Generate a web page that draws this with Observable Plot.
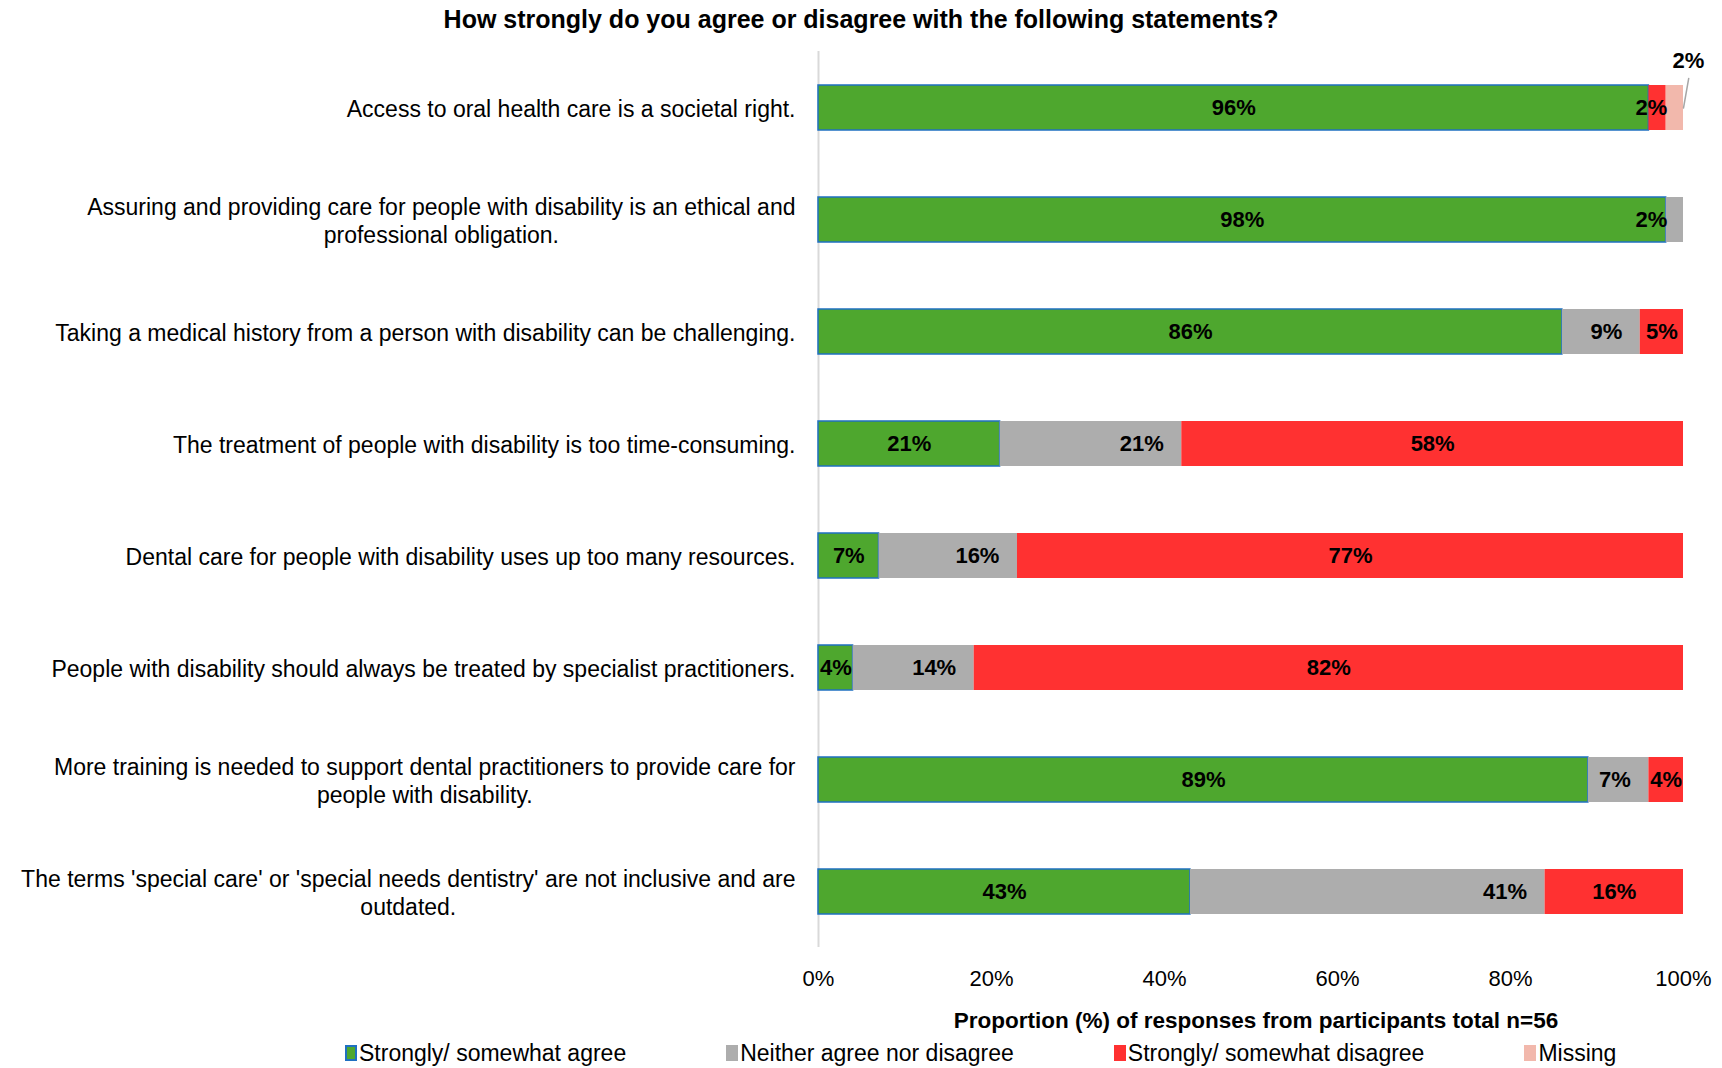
<!DOCTYPE html>
<html>
<head>
<meta charset="utf-8">
<script src="https://cdn.jsdelivr.net/npm/d3@7"></script>
<script src="https://cdn.jsdelivr.net/npm/@observablehq/plot@0.6"></script>
<style>
  body { margin: 0; background: #fff; font-family: "Liberation Sans", Arial, sans-serif; color: #000; }
  #title { height: 38px; line-height: 38px; text-align: center; font-weight: bold; font-size: 25px; }
  #legend { height: 30px; display: flex; align-items: center; padding-left: 345px; font-size: 23px; white-space: nowrap; }
  .item { display: flex; align-items: center; margin-right: 100px; flex-shrink: 0; }
  .sw { width: 12px; height: 16px; margin-right: 2px; box-sizing: border-box; flex-shrink: 0; }
</style>
</head>
<body>
<div id="title"></div>
<div id="chart"></div>
<div id="legend"></div>
<script>
const titleText = "How strongly do you agree or disagree with the following statements?";
const xAxisTitle = "Proportion (%) of responses from participants total n=56";
const statements = [
  "Access to oral health care is a societal right.",
  "Assuring and providing care for people with disability is an ethical and professional obligation.",
  "Taking a medical history from a person with disability can be challenging.",
  "The treatment of people with disability is too time-consuming.",
  "Dental care for people with disability uses up too many resources.",
  "People with disability should always be treated by specialist practitioners.",
  "More training is needed to support dental practitioners to provide care for people with disability.",
  "The terms 'special care' or 'special needs dentistry' are not inclusive and are outdated."
];
const seriesNames = ["Strongly/ somewhat agree", "Neither agree nor disagree", "Strongly/ somewhat disagree", "Missing"];
const agree    = [96, 98, 86, 21,  7,  4, 89, 43];
const neutral  = [ 0,  2,  9, 21, 16, 14,  7, 41];
const disagree = [ 2,  0,  5, 58, 77, 82,  4, 16];
const missing  = [ 2,  0,  0,  0,  0,  0,  0,  0];
const xTicks = [0, 20, 40, 60, 80, 100];

const colors = ["#4EA72E", "#ADADAD", "#FF3131", "#F2B8AC"];
const FONT = '"Liberation Sans", Arial, sans-serif';
const FS = 23;     // category labels
const FS_DATA = 22; // data labels
const FS_TICK = 22;

document.getElementById("title").textContent = titleText;

// tidy rows with stacked extents
const seriesVals = [agree, neutral, disagree, missing];
const rows = [];
statements.forEach((s, i) => {
  let acc = 0;
  seriesVals.forEach((arr, k) => {
    const v = arr[i];
    if (v > 0) rows.push({statement: s, series: seriesNames[k], k, value: v, x1: acc, x2: acc + v});
    acc += v;
  });
});

// text wrapping by measurement
const ctx = document.createElement("canvas").getContext("2d");
ctx.font = `${FS}px ${FONT}`;
function wrap(text, maxPx) {
  const words = text.split(" ");
  const lines = [];
  let line = "";
  for (const w of words) {
    const t = line ? line + " " + w : w;
    if (ctx.measureText(t).width > maxPx && line) { lines.push(line); line = w; }
    else line = t;
  }
  if (line) lines.push(line);
  return lines.join("\n");
}

const lab = {fill: "#000", fontWeight: "bold", fontSize: FS_DATA, fontFamily: FONT};
const agreeLab = rows.filter(d => d.k === 0);
const neutralBig = rows.filter(d => d.k === 1 && d.value >= 3);
const neutralSmall = rows.filter(d => d.k === 1 && d.value < 3);
const disBig = rows.filter(d => d.k === 2 && d.value >= 3);
const disSmall = rows.filter(d => d.k === 2 && d.value < 3);
const missRows = rows.filter(d => d.k === 3);

const chart = Plot.plot({
  width: 1722,
  height: 1000,
  marginLeft: 818,
  marginRight: 39,
  marginTop: 13,
  marginBottom: 91,
  style: {fontFamily: FONT, fontSize: FS + "px", color: "#000", background: "#fff"},
  x: {domain: [0, 100], ticks: xTicks, tickFormat: d => d + "%", label: null},
  y: {domain: statements, paddingInner: 0.6, paddingOuter: 0.3, label: null},
  marks: [
    Plot.ruleX([0], {stroke: "#D9D9D9", strokeWidth: 2}),
    Plot.barX(rows, {
      y: "statement", x1: "x1", x2: "x2",
      fill: d => colors[d.k],
      stroke: d => d.k === 0 ? "#1F70C1" : "none",
      strokeWidth: 1.5
    }),
    Plot.text(agreeLab, {...lab, y: "statement", x: d => (d.x1 + d.x2) / 2, text: d => d.value + "%"}),
    Plot.text(neutralBig, {...lab, y: "statement", x: "x2", text: d => d.value + "%", textAnchor: "end", dx: -18}),
    Plot.text(neutralSmall, {...lab, y: "statement", x: "x1", text: d => d.value + "%", textAnchor: "end", dx: 1}),
    Plot.text(disBig, {...lab, y: "statement", x: d => (d.x1 + d.x2) / 2, text: d => d.value + "%"}),
    Plot.text(disSmall, {...lab, y: "statement", x: "x2", text: d => d.value + "%", textAnchor: "end", dx: 1}),
    Plot.vector(missRows, {
      x: "x2", y: "statement", length: 30, rotate: 10, anchor: "start",
      stroke: "#A6A6A6", strokeWidth: 1.5,
      shape: {draw(context, l) { context.moveTo(0, 0); context.lineTo(0, -l); }}
    }),
    Plot.text(missRows, {...lab, y: "statement", x: "x2", text: d => d.value + "%", dx: 5, dy: -47}),
    Plot.axisX({ticks: xTicks, tickFormat: d => d + "%", tickSize: 0, tickPadding: 23, fontSize: FS_TICK, label: null}),
    Plot.axisY({tickSize: 0, tickPadding: 23, fontSize: FS, lineHeight: 1.22, tickFormat: d => wrap(d, 800), label: null}),
    Plot.text([xAxisTitle], {frameAnchor: "bottom", dy: 80, dx: 5, text: d => d, fontWeight: "bold", fontSize: 22.5, fill: "#000"})
  ]
});
document.getElementById("chart").appendChild(chart);

// center multi-line category labels within their block
chart.querySelectorAll('g[aria-label="y-axis tick label"] text').forEach(t => {
  const spans = Array.from(t.querySelectorAll("tspan"));
  if (spans.length < 2) return;
  const widths = spans.map(s => s.getComputedTextLength());
  const W = Math.max(...widths);
  spans.forEach((s, i) => s.setAttribute("x", -(W - widths[i]) / 2));
});

// legend
const legend = document.getElementById("legend");
seriesNames.forEach((name, k) => {
  const item = document.createElement("div");
  item.className = "item";
  const sw = document.createElement("div");
  sw.className = "sw";
  sw.style.background = colors[k];
  if (k === 0) sw.style.border = "2px solid #1F70C1";
  const tx = document.createElement("span");
  tx.textContent = name;
  item.appendChild(sw); item.appendChild(tx);
  legend.appendChild(item);
});
</script>
</body>
</html>
